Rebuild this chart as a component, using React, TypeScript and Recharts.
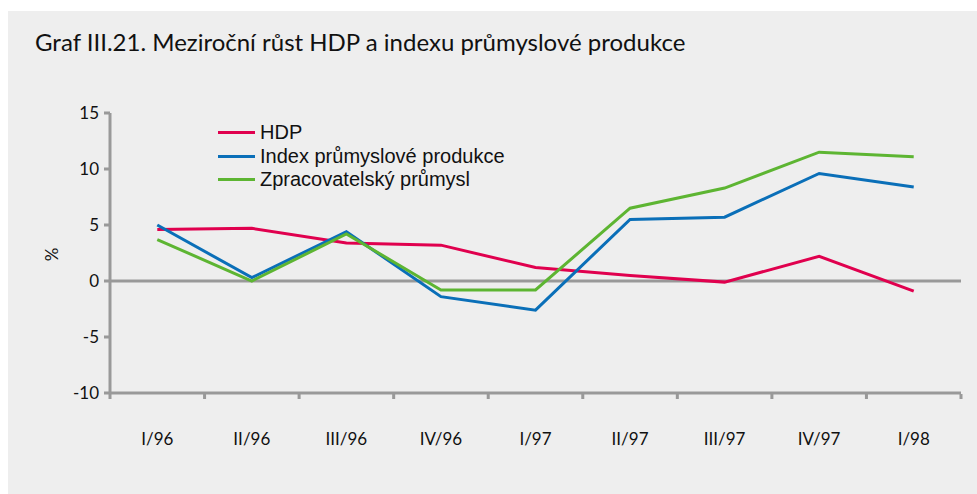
import { Line, LineChart, ReferenceLine, XAxis, YAxis } from 'recharts'

const quarters = ['I/96', 'II/96', 'III/96', 'IV/96', 'I/97', 'II/97', 'III/97', 'IV/97', 'I/98']
const hdp = [4.6, 4.7, 3.4, 3.2, 1.2, 0.5, -0.1, 2.2, -0.9]
const indexProd = [5.0, 0.3, 4.4, -1.4, -2.6, 5.5, 5.7, 9.6, 8.4]
const zpracovatelsky = [3.7, 0.0, 4.2, -0.8, -0.8, 6.5, 8.3, 11.5, 11.1]
const yTicks = [-10, -5, 0, 5, 10, 15]
const edgeTicks = [0, 1, 2, 3, 4, 5, 6, 7, 8, 9]

const SERIES = [
  { key: 'hdp', name: 'HDP', color: '#e0004e' },
  { key: 'index', name: 'Index průmyslové produkce', color: '#0a6fb8' },
  { key: 'zprac', name: 'Zpracovatelský průmysl', color: '#5db532' },
]

const AXIS_GREY = '#999999'
const LABEL_FONT = 'Lato, "Open Sans", sans-serif'

function ChartLegend() {
  return (
    <div
      style={{
        position: 'absolute',
        left: 218,
        top: 121,
        fontFamily: '"Liberation Sans", Arial, sans-serif',
        fontSize: 20,
        color: '#111',
      }}
    >
      {SERIES.map((s) => (
        <div key={s.key} style={{ display: 'flex', alignItems: 'center', height: 23.5 }}>
          <div style={{ width: 37, height: 3, background: s.color, marginRight: 5 }} />
          <span>{s.name}</span>
        </div>
      ))}
    </div>
  )
}

export default function App() {
  const data = quarters.map((q, i) => ({
    q,
    i,
    hdp: hdp[i],
    index: indexProd[i],
    zprac: zpracovatelsky[i],
  }))

  return (
    <div style={{ position: 'fixed', left: 0, top: 0, width: 977, height: 494, background: '#fff' }}>
      <div
        style={{ position: 'absolute', left: 8, top: 11, width: 969, height: 483, background: '#eeeeee' }}
      />
      <div
        style={{
          position: 'absolute',
          left: 35,
          top: 27,
          fontFamily: LABEL_FONT,
          fontSize: 24,
          color: '#111',
          whiteSpace: 'nowrap',
        }}
      >
        Graf III.21. Meziroční růst HDP a indexu průmyslové produkce
      </div>
      <div
        style={{
          position: 'absolute',
          left: 45,
          top: 244,
          fontFamily: LABEL_FONT,
          fontSize: 17,
          color: '#111',
          transform: 'rotate(-90deg)',
        }}
      >
        %
      </div>
      <div style={{ position: 'absolute', left: 0, top: 0 }}>
        <LineChart
          width={977}
          height={494}
          data={data}
          margin={{ top: 113, right: 16, bottom: 70, left: 50 }}
        >
          {/* category labels; drawn at the plot edge, text hangs below */}
          <XAxis
            dataKey="q"
            scale="band"
            height={1}
            axisLine={{ stroke: AXIS_GREY, strokeWidth: 3 }}
            tickLine={false}
            tickMargin={34}
            tick={{ fontFamily: LABEL_FONT, fontSize: 17, fill: '#111' }}
            interval={0}
          />
          {/* tick marks between the quarters */}
          <XAxis
            xAxisId="edges"
            dataKey="i"
            type="number"
            domain={[0, 9]}
            ticks={edgeTicks}
            height={30}
            axisLine={false}
            tick={() => <g />}
            tickLine={{ stroke: AXIS_GREY, strokeWidth: 3 }}
            tickSize={5}
            interval={0}
          />
          <YAxis
            width={60}
            domain={[-10, 15]}
            ticks={yTicks}
            axisLine={{ stroke: AXIS_GREY, strokeWidth: 3 }}
            tickLine={{ stroke: AXIS_GREY, strokeWidth: 3 }}
            tickSize={6}
            tickMargin={5}
            tick={{ fontFamily: LABEL_FONT, fontSize: 17, fill: '#111' }}
          />
          <ReferenceLine y={0} stroke={AXIS_GREY} strokeWidth={3} />
          {SERIES.map((s) => (
            <Line
              key={s.key}
              dataKey={s.key}
              name={s.name}
              stroke={s.color}
              strokeWidth={3}
              dot={false}
              activeDot={false}
              isAnimationActive={false}
            />
          ))}
        </LineChart>
      </div>
      <ChartLegend />
    </div>
  )
}
